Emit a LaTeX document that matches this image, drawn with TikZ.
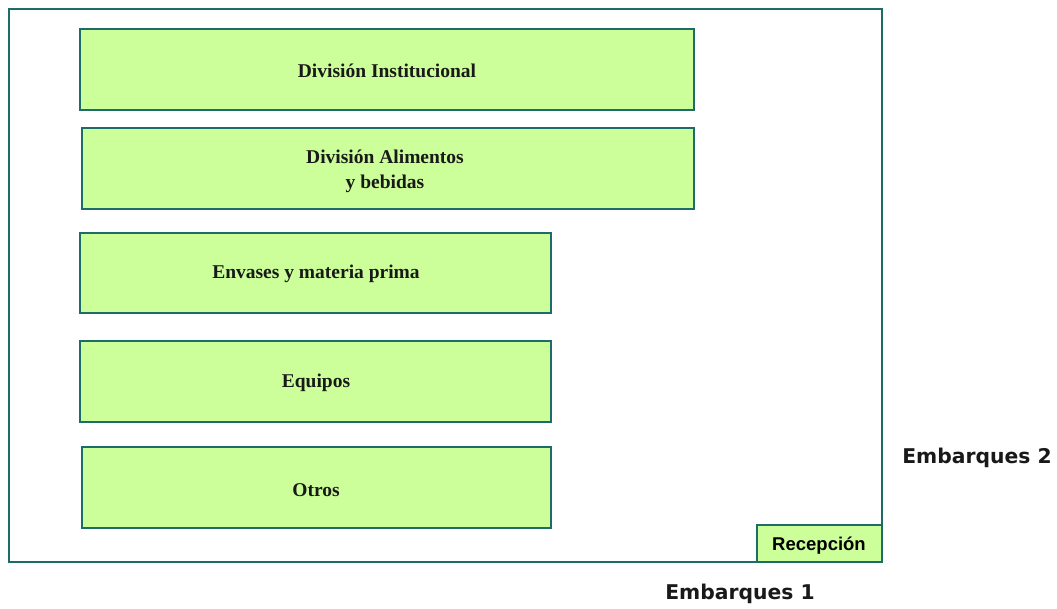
\documentclass[tikz,border=0pt]{standalone}
\usepackage{fontspec}
\setmainfont{Liberation Serif}
\newfontfamily\labelfont{DejaVu Sans}
\newfontfamily\arialfont{Liberation Sans}
\definecolor{teal1}{RGB}{30,108,104}
\definecolor{lime1}{RGB}{204,255,153}
\begin{document}
\begin{tikzpicture}[x=1pt,y=-1pt,
  area/.style={draw=teal1,line width=1.6pt,fill=lime1},
  areatext/.style={font=\fontsize{19.5}{25}\selectfont\bfseries,align=center,text=black!90},
  side/.style={font=\labelfont\fontsize{20.3}{24}\selectfont\bfseries,text=black!90}]
\useasboundingbox (0,0) rectangle (1057,608);
% warehouse outline
\draw[teal1,line width=1.6pt] (9,9) rectangle (882,562);
% storage areas
\draw[area] (80,29) rectangle (694,110);
\node[areatext] (inst) at (387,70.5) {División Institucional};
\draw[area] (82,128) rectangle (694,209);
\node[areatext] (alim) at (385,171.5) {División Alimentos\\ y bebidas};
\draw[area] (80,233) rectangle (551,313);
\node[areatext] (env) at (316,274) {Envases y materia prima};
\draw[area] (80,341) rectangle (551,422);
\node[areatext] (eq) at (316,383) {Equipos};
\draw[area] (82,447) rectangle (551,528);
\node[areatext] (otr) at (316,490.5) {Otros};
% reception
\draw[area] (757,525) rectangle (882,562);
\node[font=\arialfont\fontsize{18.5}{22}\selectfont\bfseries] (rec) at (819,546) {Recepción};
% docks
\node[side] (emb2) at (977,458) {Embarques 2};
\node[side] (emb1) at (740,594) {Embarques 1};
\end{tikzpicture}
\end{document}
